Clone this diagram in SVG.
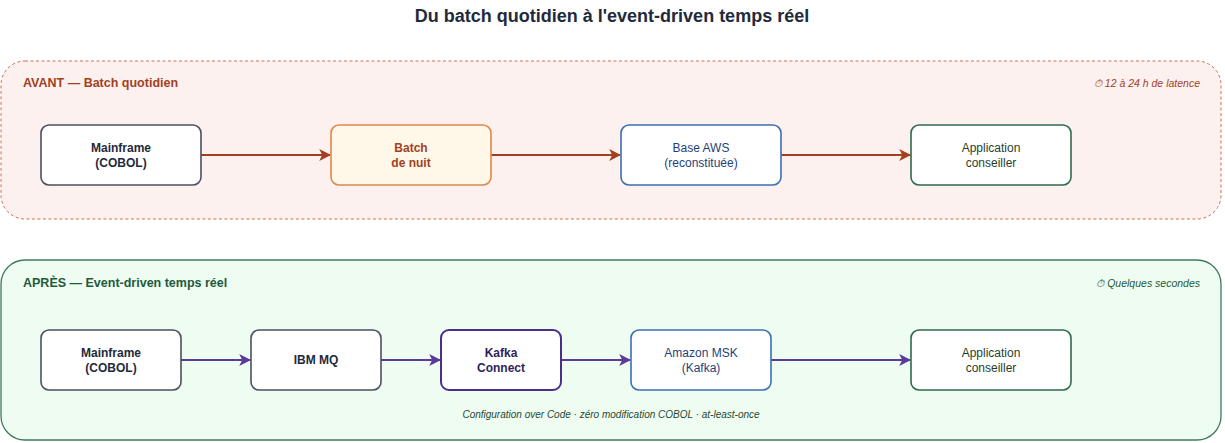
<svg xmlns="http://www.w3.org/2000/svg" width="1225" height="443" viewBox="0 0 1225 443">
<style>
text{font-family:"Liberation Sans",Arial,sans-serif;text-anchor:middle}
.n{stroke-width:1.6}
.t{font-size:12px}
.b{font-weight:bold}
</style>
<defs>
<marker id="ar" viewBox="0 0 10 10" refX="9" refY="5" markerWidth="12" markerHeight="12" markerUnits="userSpaceOnUse" orient="auto"><path d="M0,0L10,5L0,10L2.5,5z" fill="#a13f1f"/></marker>
<marker id="ap" viewBox="0 0 10 10" refX="9" refY="5" markerWidth="12" markerHeight="12" markerUnits="userSpaceOnUse" orient="auto"><path d="M0,0L10,5L0,10L2.5,5z" fill="#5b3a9a"/></marker>
</defs>
<rect width="1225" height="443" fill="#fff"/>
<text x="612" y="22" font-size="18" class="b" fill="#1f2a3c">Du batch quotidien à l'event-driven temps réel</text>
<g id="avant">
<rect x="1" y="61" width="1220" height="158" rx="24" fill="#fdf1ef" stroke="#d0704a" stroke-dasharray="3,2.5"/>
<text x="23" y="87" font-size="12.5" class="b" fill="#a13f1f" style="text-anchor:start">AVANT — Batch quotidien</text>
<text x="1200" y="87" font-size="10.5" font-style="italic" fill="#a13f1f" style="text-anchor:end">⏱ 12 à 24 h de latence</text>
</g>
<g id="apres">
<rect x="1" y="260" width="1220" height="180" rx="24" fill="#eefcf1" stroke="#3f7a5c" stroke-width="1.3"/>
<text x="23" y="287" font-size="12.5" class="b" fill="#1f5a3c" style="text-anchor:start">APRÈS — Event-driven temps réel</text>
<text x="1200" y="287" font-size="10.5" font-style="italic" fill="#1f5a3c" style="text-anchor:end">⏱ Quelques secondes</text>
<text x="611" y="418" font-size="10" font-style="italic" fill="#1f4a34">Configuration over Code · zéro modification COBOL · at-least-once</text>
</g>
<g id="connectors" stroke-width="2" fill="none">
<g stroke="#a13f1f" marker-end="url(#ar)">
<line x1="201" y1="155" x2="330" y2="155"/>
<line x1="491" y1="155" x2="620" y2="155"/>
<line x1="781" y1="155" x2="910" y2="155"/>
</g>
<g stroke="#5b3a9a" marker-end="url(#ap)">
<line x1="181" y1="360" x2="250" y2="360"/>
<line x1="381" y1="360" x2="440" y2="360"/>
<line x1="561" y1="360" x2="630" y2="360"/>
<line x1="771" y1="360" x2="910" y2="360"/>
</g>
</g>
<g id="n1"><rect class="n" x="41" y="125" width="160" height="60" rx="8" fill="#fff" stroke="#4a5060"/><text class="t b" x="121" y="152" fill="#1f2a3c">Mainframe</text><text class="t b" x="121" y="167" fill="#1f2a3c">(COBOL)</text></g>
<g id="n2"><rect class="n" x="331" y="125" width="160" height="60" rx="8" fill="#fff8e8" stroke="#e0884a"/><text class="t b" x="411" y="152" fill="#a13f1f">Batch</text><text class="t b" x="411" y="167" fill="#a13f1f">de nuit</text></g>
<g id="n3"><rect class="n" x="621" y="125" width="160" height="60" rx="8" fill="#fff" stroke="#3c6fb0"/><text class="t" x="701" y="152" fill="#1f3f7a">Base AWS</text><text class="t" x="701" y="167" fill="#1f3f7a">(reconstituée)</text></g>
<g id="n4"><rect class="n" x="911" y="125" width="160" height="60" rx="8" fill="#fff" stroke="#2f6a4c"/><text class="t" x="991" y="152" fill="#1f3f2c">Application</text><text class="t" x="991" y="167" fill="#1f3f2c">conseiller</text></g>
<g id="m1"><rect class="n" x="41" y="330" width="140" height="60" rx="8" fill="#fff" stroke="#4a5060"/><text class="t b" x="111" y="357" fill="#1f2a3c">Mainframe</text><text class="t b" x="111" y="372" fill="#1f2a3c">(COBOL)</text></g>
<g id="m2"><rect class="n" x="251" y="330" width="130" height="60" rx="8" fill="#fff" stroke="#4a5060"/><text class="t b" x="316" y="364" fill="#1f2a3c">IBM MQ</text></g>
<g id="m3"><rect x="441" y="330" width="120" height="60" rx="8" fill="#fff" stroke="#4a2f8a" stroke-width="2"/><text class="t b" x="501" y="357" fill="#2f1f5a">Kafka</text><text class="t b" x="501" y="372" fill="#2f1f5a">Connect</text></g>
<g id="m4"><rect class="n" x="631" y="330" width="140" height="60" rx="8" fill="#fff" stroke="#3c6fb0"/><text class="t" x="701" y="357" fill="#1f3f7a">Amazon MSK</text><text class="t" x="701" y="372" fill="#1f3f7a">(Kafka)</text></g>
<g id="m5"><rect class="n" x="911" y="330" width="160" height="60" rx="8" fill="#fff" stroke="#2f6a4c"/><text class="t" x="991" y="357" fill="#1f3f2c">Application</text><text class="t" x="991" y="372" fill="#1f3f2c">conseiller</text></g>
</svg>
